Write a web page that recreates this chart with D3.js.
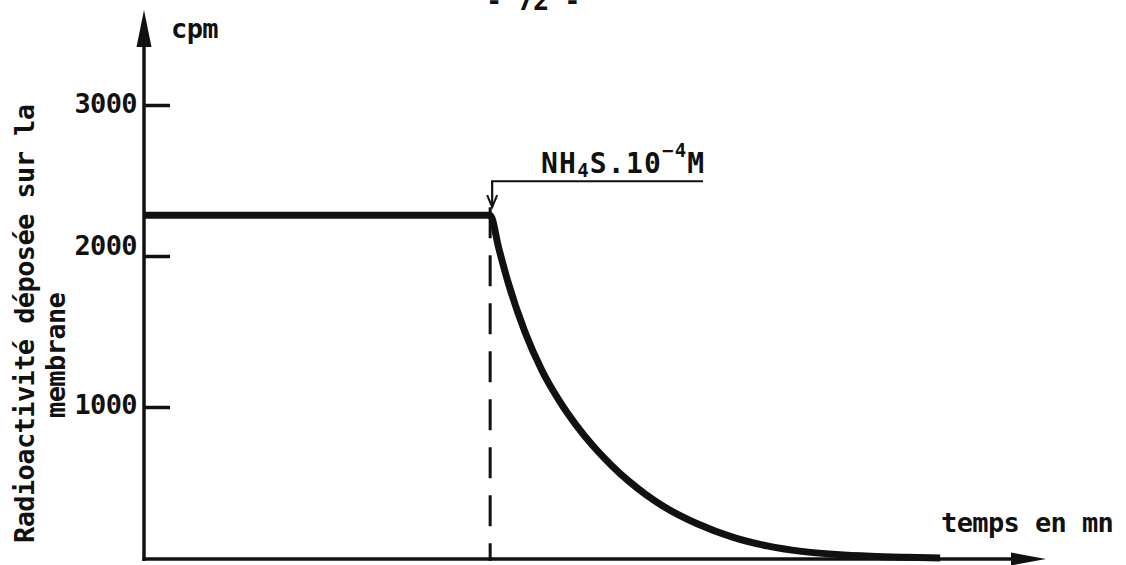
<!DOCTYPE html>
<html><head><meta charset="utf-8">
<script src="https://cdn.jsdelivr.net/npm/d3@7"></script>
<style>html,body{margin:0;padding:0;background:#fff;overflow:hidden}</style>
</head>
<body>
<svg id="chart" width="1126" height="565"></svg>
<script>
// ---------------- data ----------------
const timeMin = [0, 10, 10.25, 10.5, 11, 11.5, 12, 12.5, 13, 13.5, 14, 14.5, 15, 16, 17, 18, 19, 20, 21, 22, 23];
const cpmValues = [2270, 2270, 2050, 1840, 1500, 1240, 1040, 875, 735, 615, 510, 420, 343, 225, 138, 80, 44, 24, 12, 5, 0];
const yTickValues = [1000, 2000, 3000];
const yTickLabels = ["1000", "2000", "3000"];
const injectionTime = 10;
const annotationParts = ["NH", "4", "S.10", "\u22124", "M"];
const yTitleLine1 = "Radioactivité déposée sur la";
const yTitleLine2 = "membrane";
const yUnitLabel = "cpm";
const xTitle = "temps en mn";
const pageNumber = "- 72 -";

// ---------------- layout ----------------
const W = 1126, H = 565;
const ink = "#111";
const font = "'DejaVu Sans Mono','Liberation Mono',monospace";
const weight = 600;
const svg = d3.select("#chart");
svg.append("rect").attr("width", W).attr("height", H).attr("fill", "#fff");

const x = d3.scaleLinear().domain([0, 26]).range([144, 1044]);
const y = d3.scaleLinear().domain([0, 3000]).range([558, 105]);
const x0 = x(0), y0 = y(0);
const yAxisTopValue = y.invert(10);
const tickLabelNudge = {1000: 6, 2000: -2, 3000: 7};

function label(sel, size) {
  return sel.attr("font-family", font).attr("font-size", size).attr("font-weight", weight)
    .attr("letter-spacing", -0.6).attr("fill", ink);
}

// page number (cut at top edge, as in the scan)
label(svg.append("text").attr("x", 486).attr("y", 10), 27).text(pageNumber);

// y axis line + arrow
const yt = y(yAxisTopValue);
svg.append("line").attr("x1", x0).attr("x2", x0).attr("y1", y0 + 3).attr("y2", yt + 30)
  .attr("stroke", ink).attr("stroke-width", 3.5);
svg.append("path").attr("d", `M${x0 - 7.5},${yt + 37} L${x0},${yt} L${x0 + 7.5},${yt + 37} Z`).attr("fill", ink);

// x axis line + arrow
const xEnd = x(26) + 2;
svg.append("line").attr("x1", x0 - 1.5).attr("x2", xEnd - 30).attr("y1", y0 + 1).attr("y2", y0 + 1)
  .attr("stroke", ink).attr("stroke-width", 3.5);
svg.append("path").attr("d", `M${xEnd - 35},${y0 + 1 - 6.5} L${xEnd},${y0 + 1} L${xEnd - 35},${y0 + 1 + 6.5} Z`).attr("fill", ink);

// y ticks
const yAxis = d3.axisLeft(y).tickValues(yTickValues)
  .tickFormat((d, i) => yTickLabels[i]).tickSize(-26).tickSizeOuter(0).tickPadding(7);
const gy = svg.append("g").attr("transform", `translate(${x0},0)`).call(yAxis);
gy.select(".domain").remove();
gy.selectAll(".tick line").attr("stroke", ink).attr("stroke-width", 3.5);
label(gy.selectAll(".tick text"), 27).attr("dy", null).attr("y", d => tickLabelNudge[d]);

// dashed injection marker
const xi = x(injectionTime);
const iv = cpmValues[timeMin.indexOf(injectionTime)];
svg.append("line").attr("x1", xi).attr("x2", xi).attr("y1", y(iv) - 8).attr("y2", y0 + 3)
  .attr("stroke", ink).attr("stroke-width", 3).attr("stroke-dasharray", "31,17");

// the curve
const line = d3.line().x((d, i) => x(timeMin[i])).y(d => y(d)).curve(d3.curveMonotoneX);
svg.append("path").datum(cpmValues).attr("d", line)
  .attr("fill", "none").attr("stroke", ink).attr("stroke-width", 7).attr("stroke-linejoin", "round");

// annotation
const ax = xi + 2, ay = y(iv) - 34, tipY = y(iv) - 8;
svg.append("path").attr("d", `M${ax},${tipY} L${ax},${ay} L703,${ay}`)
  .attr("fill", "none").attr("stroke", ink).attr("stroke-width", 2.2);
svg.append("path").attr("d", `M${ax - 5},${tipY - 12} L${ax},${tipY} L${ax + 5},${tipY - 12}`)
  .attr("fill", "none").attr("stroke", ink).attr("stroke-width", 2);
const ann = label(svg.append("text").attr("x", 541).attr("y", 173), 28).attr("letter-spacing", 1.2);
ann.append("tspan").text(annotationParts[0]);
ann.append("tspan").attr("dy", 4).attr("font-size", 19).text(annotationParts[1]);
ann.append("tspan").attr("dy", -4).text(annotationParts[2]);
ann.append("tspan").attr("dy", -16).attr("font-size", 19).text(annotationParts[3]);
ann.append("tspan").attr("dy", 16).text(annotationParts[4]);

// axis titles
label(svg.append("text").attr("x", 171).attr("y", 38), 27).text(yUnitLabel);
label(svg.append("text").attr("x", 941).attr("y", 532), 27).text(xTitle);
label(svg.append("text").attr("transform", "translate(34,543) rotate(-90)"), 27).text(yTitleLine1);
label(svg.append("text").attr("transform", "translate(65,418) rotate(-90)"), 27).text(yTitleLine2);
</script>
</body></html>
